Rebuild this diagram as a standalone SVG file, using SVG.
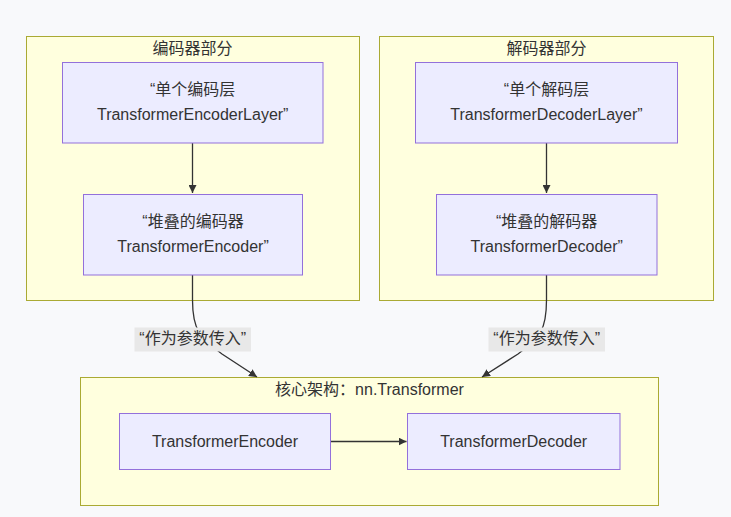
<svg xmlns="http://www.w3.org/2000/svg" width="731" height="517" viewBox="0 0 731 517">
<defs>
<style>
text{font-family:"Liberation Sans","Noto Sans CJK SC",sans-serif;font-size:16px;fill:#333333;text-anchor:middle}
.cluster{fill:#ffffde;stroke:#aaaa33;stroke-width:1}
.node{fill:#ececff;stroke:#9370db;stroke-width:1}
.edge{fill:none;stroke:#333333;stroke-width:1.3}
.lbl{fill:#e8e8e8}
</style>
<marker id="arr" viewBox="0 0 10 10" refX="10" refY="5" markerWidth="8" markerHeight="8" orient="auto" markerUnits="userSpaceOnUse">
<path d="M0,0 L10,5 L0,10 z" fill="#333333"/>
</marker>
</defs>
<rect width="731" height="517" fill="#f8f9fb"/>
<g id="cluster-encoder">
<rect class="cluster" x="26.5" y="36.5" width="333" height="264"/>
<text x="192.5" y="54">编码器部分</text>
</g>
<g id="cluster-decoder">
<rect class="cluster" x="379.5" y="36.5" width="334" height="264"/>
<text x="546.5" y="54">解码器部分</text>
</g>
<g id="cluster-core">
<rect class="cluster" x="80.5" y="377.5" width="578" height="128"/>
<text x="369.5" y="395">核心架构：nn.Transformer</text>
</g>
<g id="edges">
<path class="edge" d="M192.5,143 L192.5,193" marker-end="url(#arr)"/>
<path class="edge" d="M546.5,143 L546.5,193" marker-end="url(#arr)"/>
<path class="edge" d="M192.5,275 L192.5,300 C192.5,330 200,338 222,354 L257,377" marker-end="url(#arr)"/>
<path class="edge" d="M546.5,275 L546.5,300 C546.5,330 540,338 518,354 L482,377" marker-end="url(#arr)"/>
<path class="edge" d="M330.5,441.5 L406.5,441.5" marker-end="url(#arr)"/>
</g>
<g id="edge-label-1">
<rect class="lbl" x="134.5" y="327.5" width="116.5" height="24"/>
<text x="192.7" y="344">“作为参数传入”</text>
</g>
<g id="edge-label-2">
<rect class="lbl" x="488.5" y="327.5" width="116.5" height="24"/>
<text x="546.7" y="344">“作为参数传入”</text>
</g>
<g id="node-enc-layer">
<rect class="node" x="62.5" y="62.5" width="260.5" height="80.5"/>
<text x="192.7" y="95">“单个编码层</text>
<text x="192.7" y="120">TransformerEncoderLayer”</text>
</g>
<g id="node-enc-stack">
<rect class="node" x="83.5" y="194.5" width="219" height="80.5"/>
<text x="193" y="227">“堆叠的编码器</text>
<text x="193" y="252">TransformerEncoder”</text>
</g>
<g id="node-dec-layer">
<rect class="node" x="415.5" y="62.5" width="262" height="80.5"/>
<text x="546.5" y="95">“单个解码层</text>
<text x="546.5" y="120">TransformerDecoderLayer”</text>
</g>
<g id="node-dec-stack">
<rect class="node" x="436.5" y="194.5" width="220.5" height="80.5"/>
<text x="546.7" y="227">“堆叠的解码器</text>
<text x="546.7" y="252">TransformerDecoder”</text>
</g>
<g id="node-core-enc">
<rect class="node" x="119.5" y="413.5" width="211" height="56"/>
<text x="225" y="447">TransformerEncoder</text>
</g>
<g id="node-core-dec">
<rect class="node" x="407.5" y="413.5" width="212.5" height="56"/>
<text x="513.7" y="447">TransformerDecoder</text>
</g>
</svg>
